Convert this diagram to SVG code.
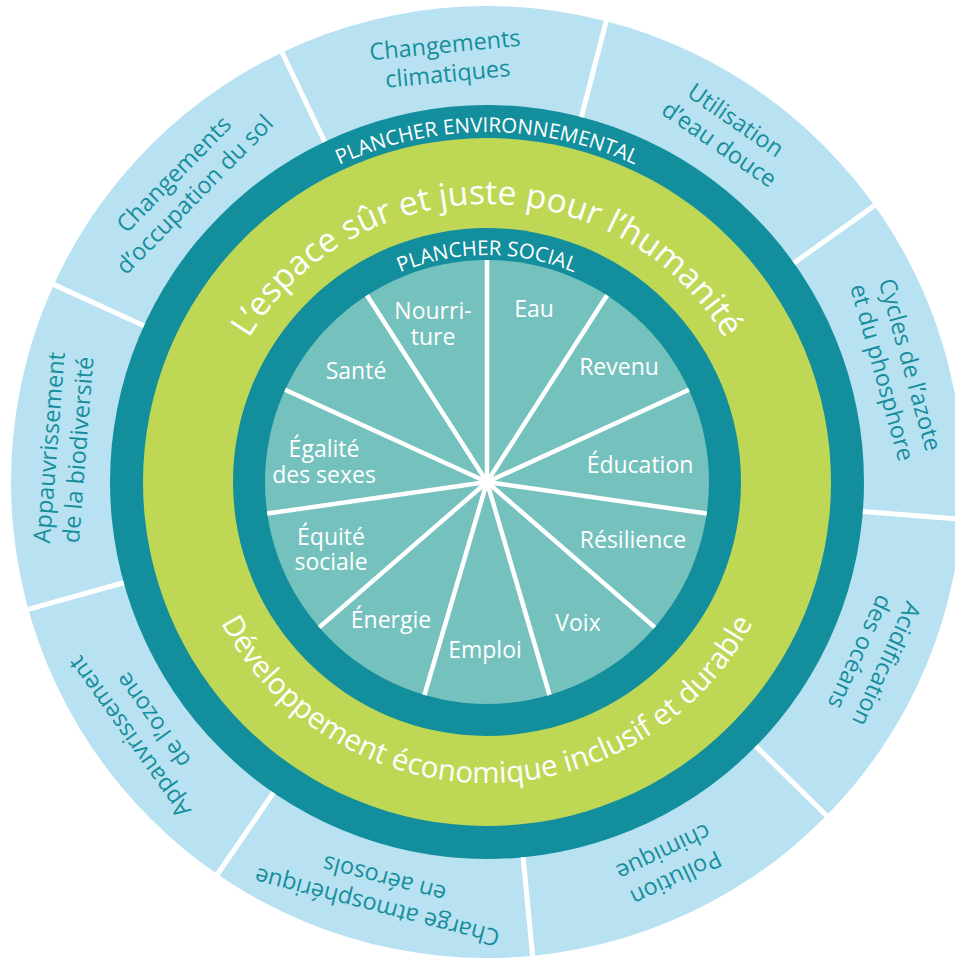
<svg xmlns="http://www.w3.org/2000/svg" width="955" height="959" viewBox="0 0 955 959">
<defs>
<style>
.sep{stroke:#fff;stroke-width:5}
.psep{stroke:#fff;stroke-width:4.5;stroke-linecap:butt}
.ob{font-family:"Open Sans","DejaVu Sans",sans-serif;font-size:23.5px;font-weight:500;fill:#178E9C;text-anchor:middle}
.pl{font-family:"Open Sans","DejaVu Sans",sans-serif;font-size:23px;font-weight:500;fill:#fff;text-anchor:middle}
.floor{font-family:"Open Sans","DejaVu Sans",sans-serif;font-weight:500;fill:#fff;text-anchor:middle}
.big{font-family:"Open Sans","DejaVu Sans",sans-serif;fill:#fff;text-anchor:middle}
</style>
<path id="envArc" d="M137,482 A350,350 0 0 1 837,482"/>
<path id="socArc" d="M260,482 A227,227 0 0 1 714,482"/>
<path id="topArc" d="M209,482 A278,278 0 0 1 765,482"/>
<path id="botArc" d="M186,482 A301,301 0 0 0 788,482"/>
</defs>
<rect width="955" height="959" fill="#fff"/>
<g id="rings">
<circle cx="487" cy="482" r="476" fill="#B8E2F2"/>
<circle cx="487" cy="482" r="377" fill="#138E9C"/>
<circle cx="487" cy="482" r="344" fill="#BED856"/>
<circle cx="487" cy="482" r="254" fill="#138E9C"/>
<circle cx="487" cy="482" r="222" fill="#74C1BE"/>
</g>
<g id="connectors">
<g id="outer-separators" transform="translate(487,482)">
<line class="sep" x1="0" y1="-377" x2="0" y2="-482" transform="rotate(14.5)"/>
<line class="sep" x1="0" y1="-377" x2="0" y2="-482" transform="rotate(54.5)"/>
<line class="sep" x1="0" y1="-377" x2="0" y2="-482" transform="rotate(94.5)"/>
<line class="sep" x1="0" y1="-377" x2="0" y2="-482" transform="rotate(134.5)"/>
<line class="sep" x1="0" y1="-377" x2="0" y2="-482" transform="rotate(174.5)"/>
<line class="sep" x1="0" y1="-377" x2="0" y2="-482" transform="rotate(214.5)"/>
<line class="sep" x1="0" y1="-377" x2="0" y2="-482" transform="rotate(254.5)"/>
<line class="sep" x1="0" y1="-377" x2="0" y2="-482" transform="rotate(294.5)"/>
<line class="sep" x1="0" y1="-377" x2="0" y2="-482" transform="rotate(334.5)"/>
</g>
<g id="pie-separators" transform="translate(487,482)">
<line class="psep" x1="0" y1="0" x2="0" y2="-222" transform="rotate(0)"/>
<line class="psep" x1="0" y1="0" x2="0" y2="-222" transform="rotate(32.727)"/>
<line class="psep" x1="0" y1="0" x2="0" y2="-222" transform="rotate(65.455)"/>
<line class="psep" x1="0" y1="0" x2="0" y2="-222" transform="rotate(98.182)"/>
<line class="psep" x1="0" y1="0" x2="0" y2="-222" transform="rotate(130.909)"/>
<line class="psep" x1="0" y1="0" x2="0" y2="-222" transform="rotate(163.636)"/>
<line class="psep" x1="0" y1="0" x2="0" y2="-222" transform="rotate(196.364)"/>
<line class="psep" x1="0" y1="0" x2="0" y2="-222" transform="rotate(229.091)"/>
<line class="psep" x1="0" y1="0" x2="0" y2="-222" transform="rotate(261.818)"/>
<line class="psep" x1="0" y1="0" x2="0" y2="-222" transform="rotate(294.545)"/>
<line class="psep" x1="0" y1="0" x2="0" y2="-222" transform="rotate(327.273)"/>
</g>
</g>
<g id="ring-titles">
<text class="floor" font-size="20.5"><textPath href="#envArc" startOffset="50%">PLANCHER ENVIRONNEMENTAL</textPath></text>
<text class="floor" font-size="20.5"><textPath href="#socArc" startOffset="50%">PLANCHER SOCIAL</textPath></text>
<text class="big" font-size="33.5"><textPath href="#topArc" startOffset="50%">L’espace sûr et juste pour l’humanité</textPath></text>
<text class="big" font-size="29.5"><textPath href="#botArc" startOffset="50%">Développement économique inclusif et durable</textPath></text>
</g>
<g id="boundaries">
<g id="b-climat" transform="translate(487,482) rotate(-5.5)"><text class="ob" y="-431">Changements</text><text class="ob" y="-402">climatiques</text></g>
<g id="b-eau" transform="translate(487,482) rotate(34.5)"><text class="ob" y="-431">Utilisation</text><text class="ob" y="-402">d’eau douce</text></g>
<g id="b-azote" transform="translate(487,482) rotate(74.5)"><text class="ob" y="-431">Cycles de l’azote</text><text class="ob" y="-402">et du phosphore</text></g>
<g id="b-acid" transform="translate(487,482) rotate(114.5)"><text class="ob" y="-431">Acidification</text><text class="ob" y="-402">des océans</text></g>
<g id="b-pollution" transform="translate(487,482) rotate(154.5)"><text class="ob" y="-431">Pollution</text><text class="ob" y="-402">chimique</text></g>
<g id="b-aerosols" transform="translate(487,482) rotate(194.5)"><text class="ob" y="-431">Charge atmosphérique</text><text class="ob" y="-402">en aérosols</text></g>
<g id="b-ozone" transform="translate(487,482) rotate(234.5)"><text class="ob" y="-431">Appauvrissement</text><text class="ob" y="-402">de l’ozone</text></g>
<g id="b-biodiv" transform="translate(487,482) rotate(274.5)"><text class="ob" y="-431">Appauvrissement</text><text class="ob" y="-402">de la biodiversité</text></g>
<g id="b-sol" transform="translate(487,482) rotate(314.5)"><text class="ob" y="-431">Changements</text><text class="ob" y="-402">d’occupation du sol</text></g>
</g>
<g id="social">
<g id="s-nourriture"><text class="pl" x="433" y="319">Nourri-</text><text class="pl" x="433" y="345">ture</text></g>
<g id="s-eau"><text class="pl" x="534" y="317">Eau</text></g>
<g id="s-revenu"><text class="pl" x="619" y="375">Revenu</text></g>
<g id="s-education"><text class="pl" x="640" y="473">Éducation</text></g>
<g id="s-resilience"><text class="pl" x="633" y="548">Résilience</text></g>
<g id="s-voix"><text class="pl" x="578" y="631">Voix</text></g>
<g id="s-emploi"><text class="pl" x="485" y="658">Emploi</text></g>
<g id="s-energie"><text class="pl" x="391" y="628">Énergie</text></g>
<g id="s-equite"><text class="pl" x="331" y="545">Équité</text><text class="pl" x="331" y="570">sociale</text></g>
<g id="s-egalite"><text class="pl" x="324" y="457">Égalité</text><text class="pl" x="324" y="483">des sexes</text></g>
<g id="s-sante"><text class="pl" x="356" y="379">Santé</text></g>
</g>
</svg>
